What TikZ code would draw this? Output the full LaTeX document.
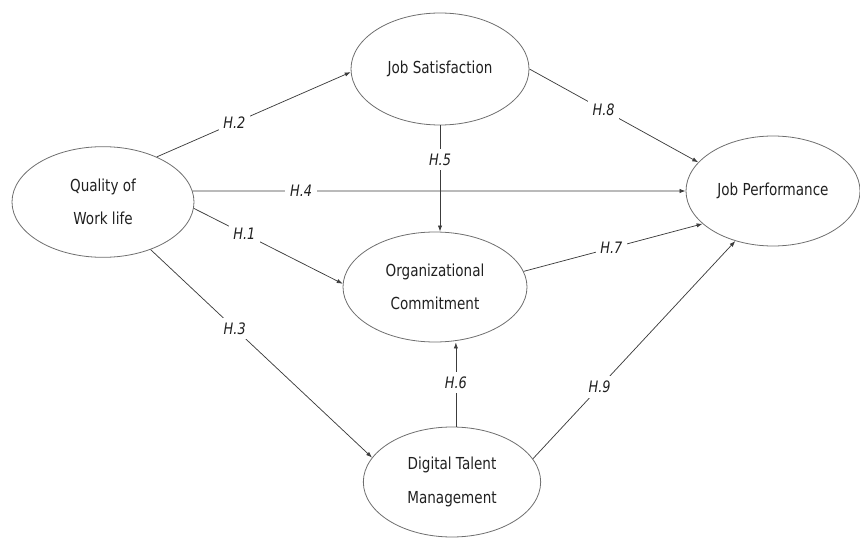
\documentclass[tikz,border=0pt]{standalone}
\usepackage{fontspec}
\setmainfont[FakeStretch=0.82]{DejaVu Sans}
\usetikzlibrary{arrows.meta,positioning,shapes.geometric}
\definecolor{ink}{HTML}{202020}
\definecolor{rim}{HTML}{6E6E6E}
\definecolor{wire}{HTML}{3C3C3C}
\tikzset{
  construct/.style={ellipse,draw=rim,line width=0.6pt,inner sep=0pt,
                    align=center,text=ink,
                    font=\fontsize{12.4}{25}\selectfont},
  hyparr/.style={-{Latex[length=4.5pt,width=3.2pt]},line width=0.55pt,
                 draw=wire},
  hyplab/.style={fill=white,inner sep=3.5pt,text=ink,
                 font=\fontsize{11.8}{13}\selectfont\itshape}
}
\begin{document}
\begin{tikzpicture}[x=0.75pt,y=-0.75pt]
    \path[use as bounding box] (0,0) rectangle (860,538);

    \node[construct,minimum width=136.5pt,minimum height=83pt] (qwl) at (103,202)
      {Quality of\\Work life};
    \node[construct,minimum width=133.5pt,minimum height=84pt] (js) at (440,69)
      {Job Satisfaction};
    \node[construct,minimum width=138pt,minimum height=82.5pt] (oc) at (435,287)
      {Organizational\\Commitment};
    \node[construct,minimum width=133pt,minimum height=82.5pt] (dtm) at (452,482)
      {Digital Talent\\Management};
    \node[construct,minimum width=130.5pt,minimum height=82.5pt] (jp) at (773,191)
      {Job Performance};

    \draw[hyparr] (qwl.40) -- node[hyplab,pos=0.40] {H.2} (js.182);
    \draw[hyparr] (qwl.7) -- node[hyplab,pos=0.22] {H.4} (jp.west);
    \draw[hyparr] (qwl.-4) -- node[hyplab,pos=0.34] {H.1} (oc.178);
    \draw[hyparr] (qwl.-45) -- node[hyplab,pos=0.38] {H.3} (dtm.163);
    \draw[hyparr] (js.south) -- node[hyplab,pos=0.32] {H.5} (js.south |- oc.north);
    \draw[hyparr] (dtm.86) -- node[hyplab,pos=0.52] {H.6} (dtm.86 |- oc.south);
    \draw[hyparr] (oc.10) -- node[hyplab,pos=0.49] {H.7} (jp.205);
    \draw[hyparr] (js.east) -- node[hyplab,pos=0.44] {H.8} (jp.159);
    \draw[hyparr] (dtm.16) -- node[hyplab,pos=0.33] {H.9} (jp.233);
  \end{tikzpicture}
\end{document}
